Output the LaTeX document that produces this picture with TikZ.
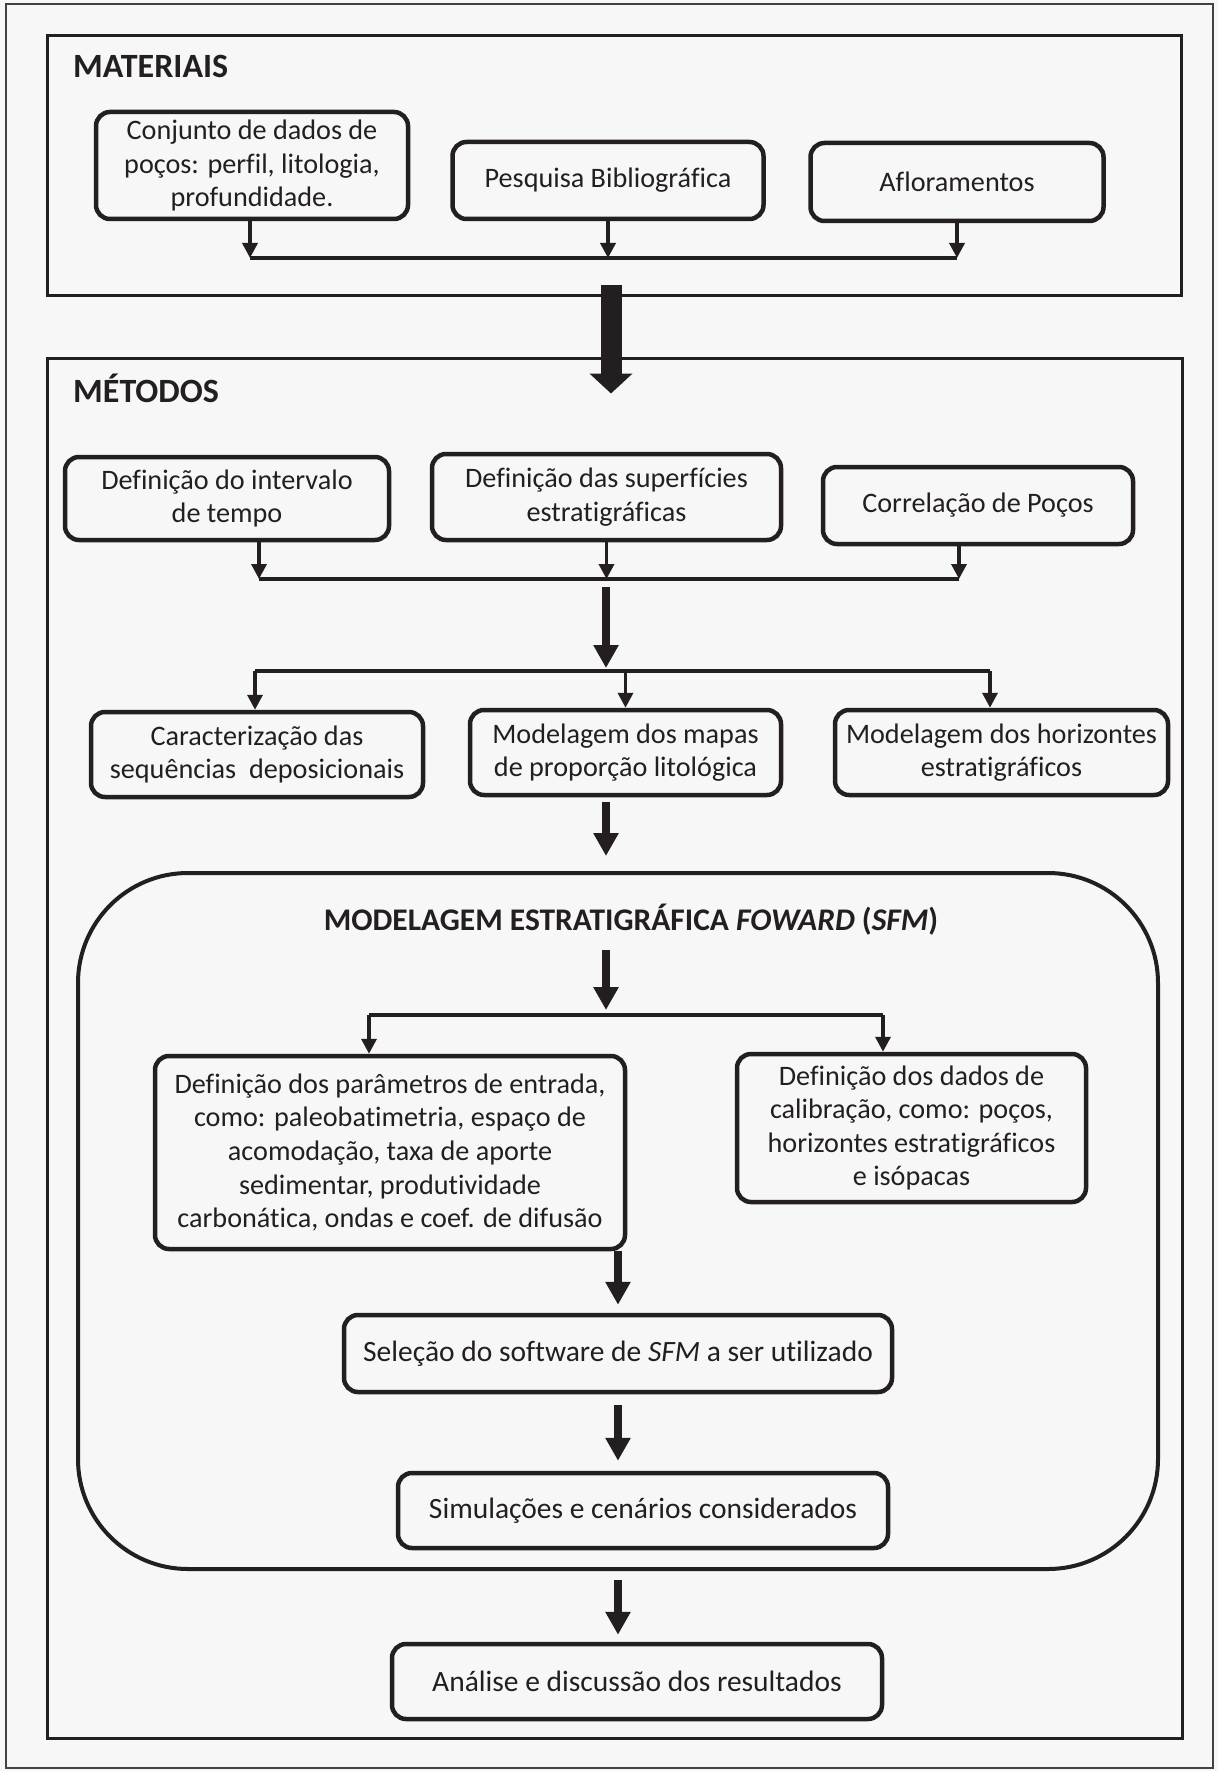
\documentclass[tikz,border=0pt]{standalone}
\usepackage{fontspec}
\setmainfont{Carlito}[Ligatures=NoCommon]
\usepackage{tikz}
\usetikzlibrary{
    calc,
    arrows.meta
}
\definecolor{ink}{HTML}{231F20}
\definecolor{paper}{HTML}{F7F7F7}
\tikzset{
    proc/.style={draw=ink, line width=4.5pt, rounded corners=14pt, align=center, inner sep=0pt,
        text=ink, font=\fontsize{28.2}{33.5}\selectfont},
    bigtext/.style={font=\fontsize{29.5}{35}\selectfont},
    group/.style={draw=ink, line width=3pt, inner sep=0pt},
    heading/.style={anchor=base west, inner sep=0pt, text=ink, font=\bfseries\fontsize{34}{40}\selectfont},
    bus/.style={draw=ink, line width=3.5pt},
    tip/.style={bus, -{Triangle[length=15pt,width=15pt]}},
    flow/.style={draw=ink, line width=8pt, -{Triangle[length=23pt,width=24pt]}},
    bigflow/.style={draw=ink, line width=21pt, -{Triangle[length=20pt,width=42pt]}}
}

\begin{document}
\begin{tikzpicture}[x=1pt, y=-1pt]
        \useasboundingbox (0,0) rectangle (1218,1771);
        \fill[paper] (0,0) rectangle (1218,1771);
        \draw[draw=ink!85, line width=2.5pt] (6,4) rectangle (1213,1768);

        \node[group, minimum width=1134pt, minimum height=259pt] (mat) at (614,165.5) {};
        \node[heading] (matT) at (73,78) {MATERIAIS};

        \node[proc, minimum width=312pt, minimum height=107pt] (b1) at (252,165.5)
            {Conjunto de dados de\\poços: perfil, litologia,\\profundidade.};
        \node[proc, minimum width=311pt, minimum height=77pt] (b2) at (608,180.5) {Pesquisa Bibliográfica};
        \node[proc, minimum width=293pt, minimum height=78pt] (b3) at (957,182) {Afloramentos};

        \coordinate (jb1) at (250,258);
        \coordinate (jb3) at (957,258);
        \draw[tip] (b1.south -| jb1) -- (jb1);
        \draw[tip] (b2.south) -- (b2.south |- jb1);
        \draw[tip] (b3.south -| jb3) -- (jb3);
        \draw[bus] (jb1) -- (jb3);

        \node[group, minimum width=1135pt, minimum height=1380pt] (met) at (614.5,1048) {};
        \node[heading] (metT) at (73,402) {MÉTODOS};

        \draw[bigflow] ([yshift=12pt]mat.south -| 611,0) -- ([yshift=-37pt]met.north -| 611,0);

        \node[proc, minimum width=324pt, minimum height=83pt] (d1) at (227,498.5)
            {Definição do intervalo\\de tempo};
        \node[proc, minimum width=349pt, minimum height=86pt] (d2) at (606.5,497)
            {Definição das superfícies\\estratigráficas};
        \node[proc, minimum width=310pt, minimum height=77pt] (d3) at (978,505.5) {Correlação de Poços};

        \coordinate (jd1) at (259,579);
        \coordinate (jd3) at (959,579);
        \draw[tip] (d1.south -| jd1) -- (jd1);
        \draw[tip] (d2.south) -- (d2.south |- jd1);
        \draw[tip] (d3.south -| jd3) -- (jd3);
        \draw[bus] (jd1) -- (jd3);

        \coordinate (fanA) at (606,671);
        \draw[flow] ([yshift=-8pt]jd1 -| fanA) -- ([yshift=3pt]fanA);

        \node[proc, minimum width=332pt, minimum height=85pt] (c1) at (257,754.5)
            {Caracterização das\\sequências~ deposicionais};
        \node[proc, minimum width=311pt, minimum height=85pt] (c2) at (625.5,752.5)
            {Modelagem dos mapas\\de proporção litológica};
        \node[proc, minimum width=333pt, minimum height=85pt] (c3) at (1001.5,752.5)
            {Modelagem dos horizontes\\estratigráficos};

        \coordinate (fa1) at (255,671);
        \coordinate (fa3) at (990,671);
        \draw[bus] (fa1) -- (fa3);
        \draw[tip] (fa1) -- (fa1 |- c1.north);
        \draw[tip] (c2.north |- fanA) -- (c2.north);
        \draw[tip] (fa3) -- (fa3 |- c3.north);

        \node[draw=ink, line width=4pt, rounded corners=110pt, inner sep=0pt,
            minimum width=1080pt, minimum height=696pt] (sfm) at (618,1221) {};
        \node[anchor=base, inner sep=0pt, text=ink, font=\bfseries\fontsize{31.5}{38}\selectfont] (sfmT) at (631,930)
            {MODELAGEM ESTRATIGRÁFICA \textit{FOWARD} (\textit{SFM})};

        \draw[flow] ([yshift=-5pt]c2.south -| fanA) -- ([yshift=15pt]sfm.north -| fanA);

        \coordinate (fanB) at (606,1015);
        \draw[flow] ([yshift=65pt]fanB) -- ([yshift=5pt]fanB);

        \node[proc, minimum width=470pt, minimum height=193pt] (p1) at (390,1152.5)
            {Definição dos parâmetros de entrada,\\como: paleobatimetria, espaço de\\acomodação, taxa de aporte\\sedimentar, produtividade\\carbonática, ondas e coef. de difusão};
        \node[proc, minimum width=349pt, minimum height=148pt] (p2) at (911.5,1128)
            {Definição dos dados de\\calibração, como: poços,\\horizontes estratigráficos\\e isópacas};

        \coordinate (fb1) at (369,1015);
        \coordinate (fb2) at (883,1015);
        \draw[bus] (fb1) -- (fb2);
        \draw[tip] (fb1) -- (fb1 |- p1.north);
        \draw[tip] (fb2) -- (fb2 |- p2.north);

        \node[proc, bigtext, minimum width=548pt, minimum height=77pt] (sel) at (618,1353.5)
            {Seleção do software de \textit{SFM} a ser utilizado};
        \node[proc, bigtext, minimum width=490pt, minimum height=75pt] (sim) at (643,1510.5)
            {Simulações e cenários considerados};
        \node[proc, bigtext, minimum width=490pt, minimum height=75pt] (res) at (637,1681.5)
            {Análise e discussão dos resultados};

        \draw[flow] (p1.south -| sel.north) -- ([yshift=8pt]sel.north);
        \draw[flow] ([yshift=-11pt]sel.south) -- ([yshift=10pt]sel.south |- sim.north);
        \draw[flow] ([yshift=-9pt]sfm.south -| sel.south) -- ([yshift=7pt]res.north -| sel.south);
    \end{tikzpicture}
\end{document}
